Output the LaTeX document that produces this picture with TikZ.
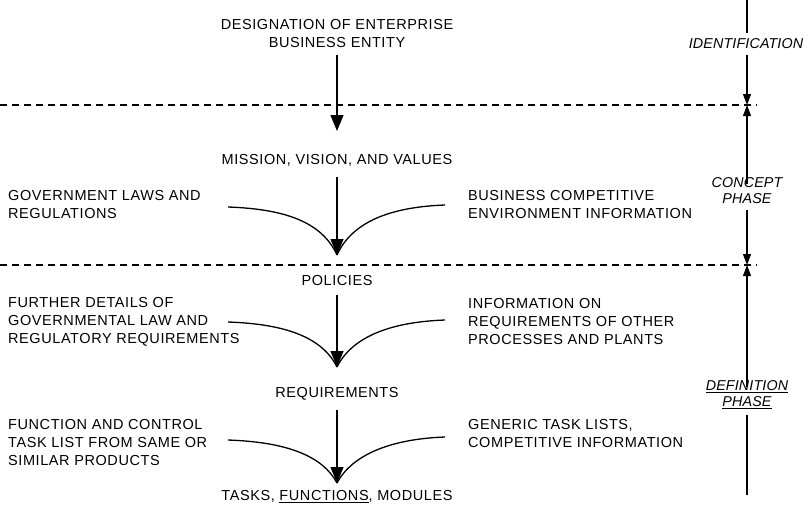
\documentclass[tikz,border=0pt]{standalone}
\usepackage{fontspec}
\setmainfont{Liberation Sans}[LetterSpace=4]
\usetikzlibrary{arrows.meta}
\tikzset{
  lbl/.style={inner sep=0pt, font=\fontsize{14.5}{18}\selectfont},
  lblL/.style={lbl, anchor=west, align=left},
  lblC/.style={lbl, align=center},
  phase/.style={lbl, align=center, font=\fontsize{14.3}{16}\selectfont\itshape\addfontfeature{LetterSpace=1}},
  flow/.style={line width=1.3pt, -{Triangle[length=16pt,width=13pt]}},
  feed/.style={line width=1.3pt},
  axis/.style={line width=1.1pt},
  axarr/.style={line width=1.1pt, -{Triangle[length=11pt,width=8pt]}},
  sep/.style={line width=1.1pt, dash pattern=on 7pt off 5pt}
}
\begin{document}
\begin{tikzpicture}[x=1pt,y=-1pt]
\useasboundingbox (0,0) rectangle (808,506);
% main column texts
\node[lblC] (des) at (337,34) {DESIGNATION OF ENTERPRISE\\BUSINESS ENTITY};
\node[lblC] (mis) at (337,160) {MISSION, VISION, AND VALUES};
\node[lblC] (pol) at (337,281) {POLICIES};
\node[lblC] (req) at (337,394) {REQUIREMENTS};
\node[lblC] (tsk) at (337,497) {TASKS, \underline{FUNCTIONS}, MODULES};
% side inputs
\node[lblL] (gov) at (8,205) {GOVERNMENT LAWS AND\\REGULATIONS};
\node[lblL] (bus) at (468,205) {BUSINESS COMPETITIVE\\ENVIRONMENT INFORMATION};
\node[lblL] (fur) at (8,322) {FURTHER DETAILS OF\\GOVERNMENTAL LAW AND\\REGULATORY REQUIREMENTS};
\node[lblL] (inf) at (468,322) {INFORMATION ON\\REQUIREMENTS OF OTHER\\PROCESSES AND PLANTS};
\node[lblL] (fun) at (8,443) {FUNCTION AND CONTROL\\TASK LIST FROM SAME OR\\SIMILAR PRODUCTS};
\node[lblL] (gen) at (468,434) {GENERIC TASK LISTS,\\COMPETITIVE INFORMATION};
% phase labels
\node[phase] (ide) at (746,44) {IDENTIFICATION};
\node[phase] (con) at (747,191) {CONCEPT\\PHASE};
\node[phase] (dfn) at (747,395) {\underline{DEFINITION}\\\underline{PHASE}};
% coordinates
\coordinate (t1) at (337,131);
\coordinate (t2) at (337,255);
\coordinate (t3) at (337,367);
\coordinate (t4) at (337,483);
\coordinate (d1l) at (0,105);
\coordinate (d1r) at (757,105);
\coordinate (d2l) at (0,265);
\coordinate (d2r) at (757,265);
\coordinate (a0) at (747,0);
\coordinate (a1) at (747,105);
\coordinate (a2) at (747,265);
\coordinate (a3) at (747,495);
% separators
\draw[sep] (d1l) -- (d1r);
\draw[sep] (d2l) -- (d2r);
% flows
\draw[flow] ([yshift=-7pt]des.south) -- (t1);
\draw[flow] ([yshift=-11pt]mis.south) -- (t2);
\draw[flow] ([yshift=-9pt]pol.south) -- (t3);
\draw[flow] ([yshift=-9pt]req.south) -- (t4);
% feeds
\coordinate (g1) at (228,207);
\coordinate (b1) at (445,205);
\coordinate (g2) at (228,322);
\coordinate (b2) at (445,320);
\coordinate (g3) at (228,440);
\coordinate (b3) at (445,437);
\draw[feed] (g1) .. controls (285,209) and (322,222) .. (t2);
\draw[feed] (b1) .. controls (390,207) and (352,222) .. (t2);
\draw[feed] (g2) .. controls (285,324) and (322,337) .. (t3);
\draw[feed] (b2) .. controls (390,322) and (352,337) .. (t3);
\draw[feed] (g3) .. controls (285,442) and (322,455) .. (t4);
\draw[feed] (b3) .. controls (390,439) and (352,455) .. (t4);
% phase axis
\draw[axis] (a0) -- ([yshift=6pt]ide.north -| a0);
\draw[axarr] ([yshift=-6pt]ide.south -| a0) -- (a1);
\draw[axarr] ([yshift=-6pt]con.north) -- (a1);
\draw[axarr] ([yshift=-6pt]con.south) -- (a2);
\draw[axarr] ([yshift=-6pt]dfn.north) -- (a2);
\draw[axis] ([yshift=-6pt]dfn.south) -- (a3);
\end{tikzpicture}
\end{document}
